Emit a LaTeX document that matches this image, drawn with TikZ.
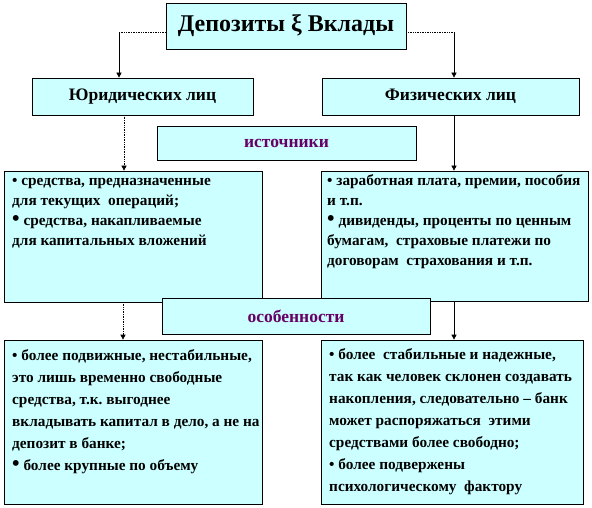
\documentclass[tikz,border=0pt]{standalone}
\usepackage{fontspec}
\setmainfont{Liberation Serif}
\usepackage{graphicx}
\usetikzlibrary{arrows.meta,positioning,calc}
\definecolor{boxfill}{rgb}{0.8,1,1}
\definecolor{tagpurple}{rgb}{0.4,0,0.4}
\tikzset{
  panel/.style={rectangle, draw=black, fill=boxfill, line width=0.7pt, inner sep=0pt},
  caption/.style={font=\bfseries\fontsize{17.5}{20}\selectfont},
  tag/.style={text=tagpurple, font=\bfseries\fontsize{17.5}{20}\selectfont},
  note/.style={anchor=north west, inner sep=0pt, align=left, font=\bfseries\fontsize{15.3}{20}\selectfont},
  longnote/.style={note, font=\bfseries\fontsize{15.3}{22}\selectfont},
  flow/.style={-{Triangle[length=5pt,width=5pt]}, draw=black, line width=0.7pt},
  dotflow/.style={flow, densely dotted},
}
\newcommand{\bigbul}{\scalebox{1.4}{•}}

\begin{document}
\begin{tikzpicture}[x=1pt, y=-1pt]
  \useasboundingbox (0,0) rectangle (592,508);
  \node[panel, minimum width=240pt, minimum height=46pt, font=\bfseries\fontsize{24}{26}\selectfont] (title) at (286,26) {Депозиты ξ Вклады};
  \node[panel, caption, minimum width=221pt, minimum height=37pt] (jur) at (142.5,96.5) {Юридических лиц};
  \node[panel, caption, minimum width=257pt, minimum height=37pt] (fiz) at (450.5,96.5) {Физических лиц};
  \node[panel, tag, minimum width=259pt, minimum height=34pt] (src) at (286.5,143) {источники};

  \node[panel, minimum width=258pt, minimum height=131pt] (jursrc) at (133,236.5) {};
  \node[panel, minimum width=267pt, minimum height=130pt] (fizsrc) at (454.5,236) {};
  \node[note] (jursrctext) at (12,171.5) {\strut• средства, предназначенные\\для текущих\ \ операций;\\\bigbul\ средства, накапливаемые\\для капитальных вложений};
  \node[note] (fizsrctext) at (327,171.5) {\strut• заработная плата, премии, пособия\\и т.п.\\\bigbul\ дивиденды, проценты по ценным\\бумагам,\ \ страховые платежи по\\договорам\ \ страхования и т.п.};

  \node[panel, tag, minimum width=268pt, minimum height=36pt] (feat) at (296,316) {особенности};

  \node[panel, minimum width=258pt, minimum height=164pt] (jurfeat) at (133,422) {};
  \node[panel, minimum width=262pt, minimum height=164pt] (fizfeat) at (452,422) {};
  \node[longnote] (jurfeattext) at (12,345) {\strut• более подвижные, нестабильные,\\это лишь временно свободные\\средства, т.к.\ выгоднее\\вкладывать капитал в дело, а не на\\депозит в банке;\\\bigbul\ более крупные по объему};
  \node[longnote] (fizfeattext) at (329,344) {\strut• более\ \ стабильные и надежные,\\так как человек склонен создавать\\накопления, следовательно – банк\\может распоряжаться\ \ этими\\средствами более свободно;\\• более подвержены\\психологическому\ \ фактору};

  \coordinate (tl) at (119,32);
  \coordinate (tr) at (454,32);
  \coordinate (jl) at (124,115);
  \coordinate (fl) at (454,115);
  \coordinate (jsl) at (123,302);
  \coordinate (fsl) at (454,301);
  \draw[densely dotted, line width=0.7pt] ([yshift=-6pt]title.west) -- (tl);
  \draw[densely dotted, line width=0.7pt] ([yshift=-6pt]title.east) -- (tr);
  \draw[flow] (tl) -- (tl |- jur.north);
  \draw[flow] (tr) -- (tr |- fiz.north);
  \draw[dotflow] (jl) -- (jl |- jursrc.north);
  \draw[flow] (fl) -- (fl |- fizsrc.north);
  \draw[dotflow] (jsl) -- (jsl |- jurfeat.north);
  \draw[flow] (fsl) -- (fsl |- fizfeat.north);
\end{tikzpicture}
\end{document}
